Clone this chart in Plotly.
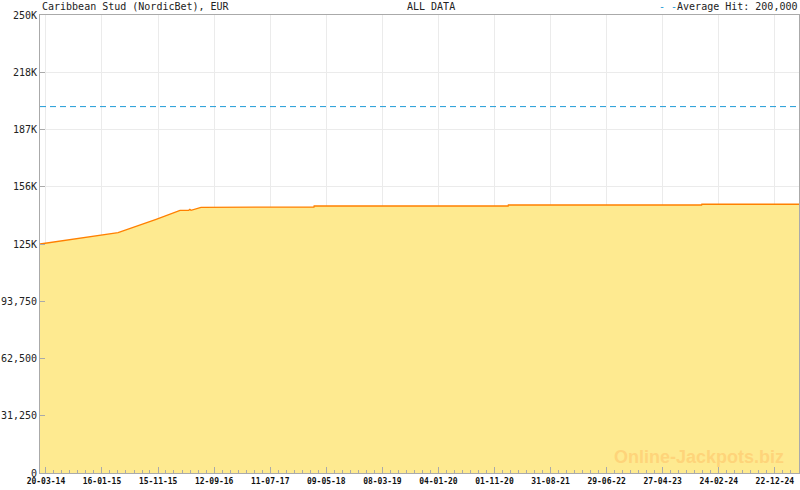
import plotly.graph_objects as go
from datetime import date, timedelta

# ---- data ----
dates = ["2014-02-16", "2015-04-13", "2015-11-04", "2016-03-12", "2016-04-28",
         "2016-05-04", "2016-05-10", "2016-07-03", "2018-03-04", "2018-03-05",
         "2021-01-14", "2021-01-15", "2023-11-23", "2023-11-24", "2025-05-01"]
values = [125000, 131170, 138480, 143400, 143400,
          143950, 143400, 145030, 145200, 145740,
          145740, 146290, 146290, 146700, 146700]
average_hit = 200000

x_tick_dates = ["2014-03-20", "2015-01-16", "2015-11-15", "2016-09-12", "2017-07-11",
                "2018-05-09", "2019-03-08", "2020-01-04", "2020-11-01", "2021-08-31",
                "2022-06-29", "2023-04-27", "2024-02-24", "2024-12-22"]
x_tick_labels = ["20-03-14", "16-01-15", "15-11-15", "12-09-16", "11-07-17",
                 "09-05-18", "08-03-19", "04-01-20", "01-11-20", "31-08-21",
                 "29-06-22", "27-04-23", "24-02-24", "22-12-24"]
y_tick_vals = [0, 31250, 62500, 93750, 125000, 156250, 187500, 218750, 250000]
y_tick_labels = ["0", "31,250", "62,500", "93,750", "125K", "156K", "187K", "218K", "250K"]

x_start, x_end = "2014-02-16", "2025-05-01"

# minor ticks: 7 subdivisions between majors
minor = []
d0 = date.fromisoformat(x_tick_dates[0])
step = 302.3 / 7
end_d = date.fromisoformat(x_end)
k = 1
while True:
    d = d0 + timedelta(days=step * k)
    if d >= end_d:
        break
    if k % 7 != 0:
        minor.append(d.isoformat())
    k += 1

mono = "DejaVu Sans Mono"

fig = go.Figure()
fig.add_trace(go.Scatter(
    x=dates, y=values, mode="lines", fill="tozeroy",
    line=dict(color="#ff8000", width=1.3), fillcolor="#feea90",
    showlegend=False, hoverinfo="skip"))
fig.add_trace(go.Scatter(
    x=[x_start, x_end], y=[average_hit, average_hit], mode="lines",
    line=dict(color="#1f9bd7", width=1, dash="6px,4px"),
    showlegend=False, hoverinfo="skip"))

fig.update_layout(
    width=800, height=490,
    margin=dict(l=40, r=1, t=15, b=17),
    paper_bgcolor="white", plot_bgcolor="white",
    font=dict(family=mono, size=10, color="#222"),
    xaxis=dict(
        type="date", range=[x_start, x_end], automargin=False,
        tickmode="array", tickvals=x_tick_dates, ticktext=x_tick_labels,
        tickfont=dict(family=mono, size=8, color="#111", weight="bold"),
        ticks="inside", ticklen=6, tickcolor="#aaaaaa", tickwidth=1,
        showgrid=True, gridcolor="#ebebeb", gridwidth=1,
        showline=True, linecolor="#aaaaaa", linewidth=1, mirror=True,
        zeroline=False,
        minor=dict(tickvals=minor, ticks="inside", ticklen=3, tickcolor="#aaaaaa",
                   showgrid=False),
    ),
    yaxis=dict(
        range=[0, 250000], automargin=False,
        tickmode="array", tickvals=y_tick_vals, ticktext=y_tick_labels,
        tickfont=dict(family=mono, size=10, color="#222"),
        ticks="inside", ticklen=5, tickcolor="#aaaaaa",
        showgrid=True, gridcolor="#ebebeb", gridwidth=1,
        showline=True, linecolor="#aaaaaa", linewidth=1, mirror=True,
        zeroline=False,
    ),
    annotations=[
        dict(xref="paper", yref="paper", x=0, y=1.0175, xanchor="left", yanchor="middle",
             text="Caribbean Stud (NordicBet), EUR", showarrow=False,
             font=dict(family=mono, size=10, color="#222")),
        dict(xref="paper", yref="paper", x=(405 - 40) / 759, y=1.0175, xanchor="left",
             yanchor="middle", text="ALL DATA", showarrow=False,
             font=dict(family=mono, size=10, color="#222")),
        dict(xref="paper", yref="paper", x=1, y=1.0175, xanchor="right", yanchor="middle",
             text="<span style='color:#1f9bd7'>- -</span>Average Hit: 200,000",
             showarrow=False, font=dict(family=mono, size=10, color="#222")),
        dict(xref="paper", yref="paper", x=(699 - 40) / 759, y=(473 - 457) / 458,
             xanchor="center", yanchor="middle", text="<b>Online-Jackpots.biz</b>",
             showarrow=False,
             font=dict(family="Liberation Sans", size=18, color="#fed47a")),
    ],
)

fig.write_html(
    "out.html",
    config={"displayModeBar": False},
    post_script="document.body.style.margin='0';document.body.style.padding='0';"
                "document.body.style.overflow='hidden';"
                "document.documentElement.style.overflow='hidden';",
)
